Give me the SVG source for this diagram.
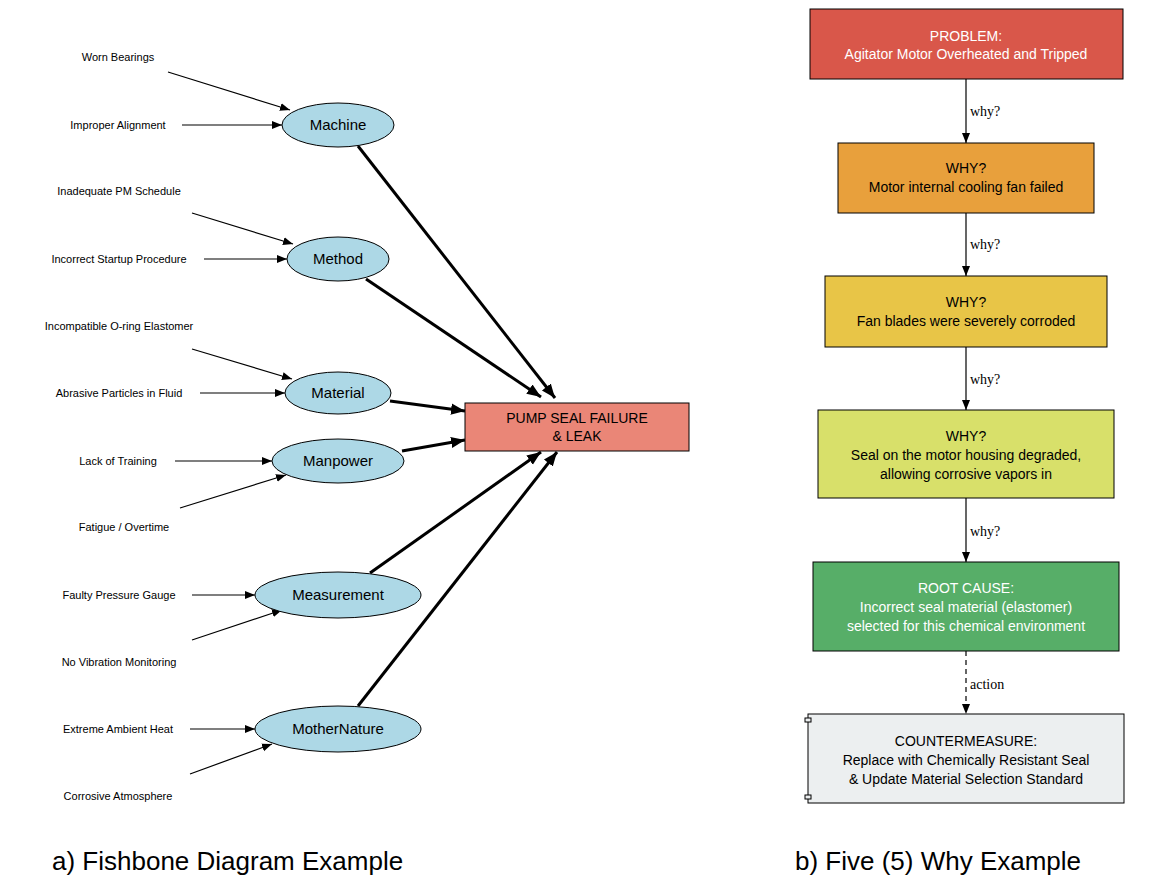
<svg xmlns="http://www.w3.org/2000/svg" width="1152" height="896" viewBox="0 0 1152 896">
<style>
text{font-family:"Liberation Sans",Arial,sans-serif;fill:#000}
.c{font-size:11px;text-anchor:middle}
.e{fill:#add8e6;stroke:#000;stroke-width:1}
.en{font-size:15px;text-anchor:middle}
.t{stroke:#000;stroke-width:1.2;fill:none}
.k{stroke:#000;stroke-width:3;fill:none}
.b{stroke:#000;stroke-width:1}
.bt{font-size:14px;text-anchor:middle}
.w{fill:#fff}
.lab{font-family:"Liberation Serif",serif;font-size:14px}
.cap{font-size:26px}
</style>
<defs>
<marker id="a" viewBox="0 0 10 10" refX="10" refY="5" markerWidth="10" markerHeight="10" markerUnits="userSpaceOnUse" orient="auto"><path d="M0,1 L10,5 L0,9 z" fill="#000"/></marker>
<marker id="A" viewBox="0 0 10 10" refX="10" refY="5" markerWidth="14" markerHeight="14" markerUnits="userSpaceOnUse" orient="auto"><path d="M0,1 L10,5 L0,9 z" fill="#000"/></marker>
</defs>
<g id="connectors">
<line class="t" x1="168" y1="72" x2="290" y2="110" marker-end="url(#a)"/>
<line class="t" x1="182" y1="125" x2="282" y2="125" marker-end="url(#a)"/>
<line class="t" x1="192" y1="213" x2="293" y2="244" marker-end="url(#a)"/>
<line class="t" x1="204" y1="259" x2="287" y2="259" marker-end="url(#a)"/>
<line class="t" x1="192" y1="349" x2="292" y2="379" marker-end="url(#a)"/>
<line class="t" x1="200" y1="393" x2="285" y2="393" marker-end="url(#a)"/>
<line class="t" x1="175" y1="461" x2="272" y2="461" marker-end="url(#a)"/>
<line class="t" x1="180" y1="508" x2="286" y2="475" marker-end="url(#a)"/>
<line class="t" x1="192" y1="595" x2="255" y2="595" marker-end="url(#a)"/>
<line class="t" x1="192" y1="640" x2="282" y2="610" marker-end="url(#a)"/>
<line class="t" x1="190" y1="729" x2="255" y2="729" marker-end="url(#a)"/>
<line class="t" x1="190" y1="774" x2="272" y2="744" marker-end="url(#a)"/>
<line class="k" x1="358" y1="146" x2="555" y2="398" marker-end="url(#A)"/>
<line class="k" x1="366" y1="279" x2="541" y2="397" marker-end="url(#A)"/>
<line class="k" x1="390" y1="401" x2="465" y2="411" marker-end="url(#A)"/>
<line class="k" x1="402" y1="451" x2="465" y2="440" marker-end="url(#A)"/>
<line class="k" x1="370" y1="573" x2="541" y2="452" marker-end="url(#A)"/>
<line class="k" x1="358" y1="706" x2="557" y2="452" marker-end="url(#A)"/>
<line class="t" x1="966" y1="79" x2="966" y2="143" marker-end="url(#a)"/>
<line class="t" x1="966" y1="213" x2="966" y2="276" marker-end="url(#a)"/>
<line class="t" x1="966" y1="347" x2="966" y2="410" marker-end="url(#a)"/>
<line class="t" x1="966" y1="498" x2="966" y2="562" marker-end="url(#a)"/>
<line class="t" x1="966" y1="651" x2="966" y2="714" stroke-dasharray="5,4" marker-end="url(#a)"/>
<text class="lab" x="970" y="116">why?</text>
<text class="lab" x="970" y="249">why?</text>
<text class="lab" x="970" y="384">why?</text>
<text class="lab" x="970" y="536">why?</text>
<text class="lab" x="970" y="689">action</text>
</g>
<g id="causes">
<text class="c" x="118" y="61">Worn Bearings</text>
<text class="c" x="118" y="129">Improper Alignment</text>
<text class="c" x="119" y="195">Inadequate PM Schedule</text>
<text class="c" x="119" y="263">Incorrect Startup Procedure</text>
<text class="c" x="119" y="330">Incompatible O-ring Elastomer</text>
<text class="c" x="119" y="397">Abrasive Particles in Fluid</text>
<text class="c" x="118" y="465">Lack of Training</text>
<text class="c" x="124" y="531">Fatigue / Overtime</text>
<text class="c" x="119" y="599">Faulty Pressure Gauge</text>
<text class="c" x="119" y="666">No Vibration Monitoring</text>
<text class="c" x="118" y="733">Extreme Ambient Heat</text>
<text class="c" x="118" y="800">Corrosive Atmosphere</text>
</g>
<g id="machine"><ellipse class="e" cx="338" cy="125" rx="56" ry="22"/><text class="en" x="338" y="130">Machine</text></g>
<g id="method"><ellipse class="e" cx="338" cy="259" rx="51" ry="22"/><text class="en" x="338" y="264">Method</text></g>
<g id="material"><ellipse class="e" cx="338" cy="393" rx="53" ry="21"/><text class="en" x="338" y="398">Material</text></g>
<g id="manpower"><ellipse class="e" cx="338" cy="461" rx="66" ry="22"/><text class="en" x="338" y="466">Manpower</text></g>
<g id="measurement"><ellipse class="e" cx="338" cy="595" rx="83" ry="23"/><text class="en" x="338" y="600">Measurement</text></g>
<g id="mothernature"><ellipse class="e" cx="338" cy="729" rx="83" ry="23"/><text class="en" x="338" y="734">MotherNature</text></g>
<g id="effect"><rect class="b" x="465" y="403" width="224" height="48" fill="#ea8677"/><text class="bt" x="577" y="423" font-size="15">PUMP SEAL FAILURE</text><text class="bt" x="577" y="441">&amp; LEAK</text></g>
<g id="problem"><rect class="b" x="810" y="9" width="313" height="70" fill="#d9574a"/><text class="bt w" x="966" y="41">PROBLEM:</text><text class="bt w" x="966" y="59">Agitator Motor Overheated and Tripped</text></g>
<g id="why1"><rect class="b" x="838" y="143" width="256" height="70" fill="#e8a03c"/><text class="bt" x="966" y="173">WHY?</text><text class="bt" x="966" y="192">Motor internal cooling fan failed</text></g>
<g id="why2"><rect class="b" x="825" y="276" width="282" height="71" fill="#e8c547"/><text class="bt" x="966" y="307">WHY?</text><text class="bt" x="966" y="326">Fan blades were severely corroded</text></g>
<g id="why3"><rect class="b" x="818" y="410" width="296" height="88" fill="#d8e06a"/><text class="bt" x="966" y="441">WHY?</text><text class="bt" x="966" y="460">Seal on the motor housing degraded,</text><text class="bt" x="966" y="479">allowing corrosive vapors in</text></g>
<g id="root"><rect class="b" x="813" y="562" width="306" height="89" fill="#57ae68"/><text class="bt w" x="966" y="593">ROOT CAUSE:</text><text class="bt w" x="966" y="612">Incorrect seal material (elastomer)</text><text class="bt w" x="966" y="631">selected for this chemical environment</text></g>
<g id="countermeasure"><rect class="b" x="808" y="714" width="316" height="89" fill="#eceff0"/><rect class="b" x="805" y="718" width="6" height="4" fill="#eceff0"/><rect class="b" x="805" y="795" width="6" height="4" fill="#eceff0"/><text class="bt" x="966" y="746">COUNTERMEASURE:</text><text class="bt" x="966" y="765">Replace with Chemically Resistant Seal</text><text class="bt" x="966" y="784">&amp; Update Material Selection Standard</text></g>
<text class="cap" x="52" y="870">a) Fishbone Diagram Example</text>
<text class="cap" x="795" y="870">b) Five (5) Why Example</text>
</svg>
